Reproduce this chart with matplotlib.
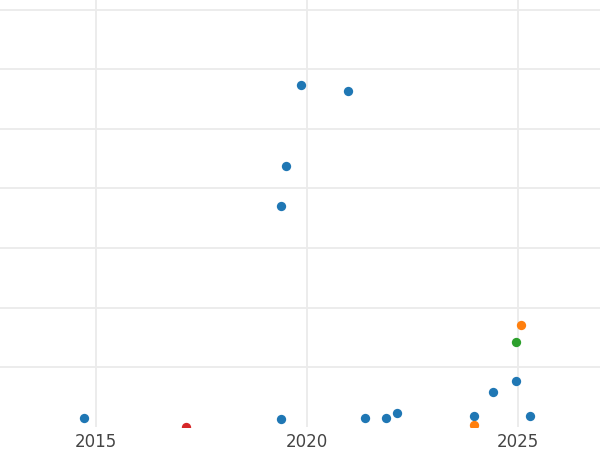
import matplotlib
matplotlib.use("Agg")
import matplotlib.pyplot as plt

# data (y in grid units)
blue_x = [2014.72, 2019.38, 2019.86, 2020.97, 2019.50, 2019.38, 2021.37, 2021.87, 2022.13, 2023.95, 2024.42, 2024.96, 2025.29]
blue_y = [0.16, 0.14, 5.74, 5.64, 4.38, 3.71, 0.16, 0.16, 0.23, 0.18, 0.59, 0.77, 0.19]
orange_x = [2023.95, 2025.07]
orange_y = [0.04, 1.71]
green_x = [2024.96]
green_y = [1.43]
red_x = [2017.13]
red_y = [0.0]

xticks = [2015, 2020, 2025]
yticks = [1, 2, 3, 4, 5, 6, 7]

fig = plt.figure(figsize=(6, 4.5), dpi=100)
ax = fig.add_axes([0, 0.051, 1, 0.949])
for xs, ys, c in [(blue_x, blue_y, "#1f77b4"), (orange_x, orange_y, "#ff7f0e"),
                  (green_x, green_y, "#2ca02c"), (red_x, red_y, "#d62728")]:
    ax.scatter(xs, ys, s=45, color=c, linewidths=0, zorder=3)

ax.set_xlim(2012.72, 2026.95)
ax.set_ylim(0, 7.16)
ax.set_xticks(xticks)
ax.set_xticklabels([str(t) for t in xticks])
ax.set_yticks(yticks)
ax.set_yticklabels([])
ax.grid(True, color="#ebebeb", linewidth=1.3)
ax.set_axisbelow(True)
for s in ax.spines.values():
    s.set_visible(False)
ax.tick_params(axis="both", length=0)
ax.tick_params(axis="x", labelsize=12, labelcolor="#444444", pad=4)
fig.savefig("out.png", dpi=100)
